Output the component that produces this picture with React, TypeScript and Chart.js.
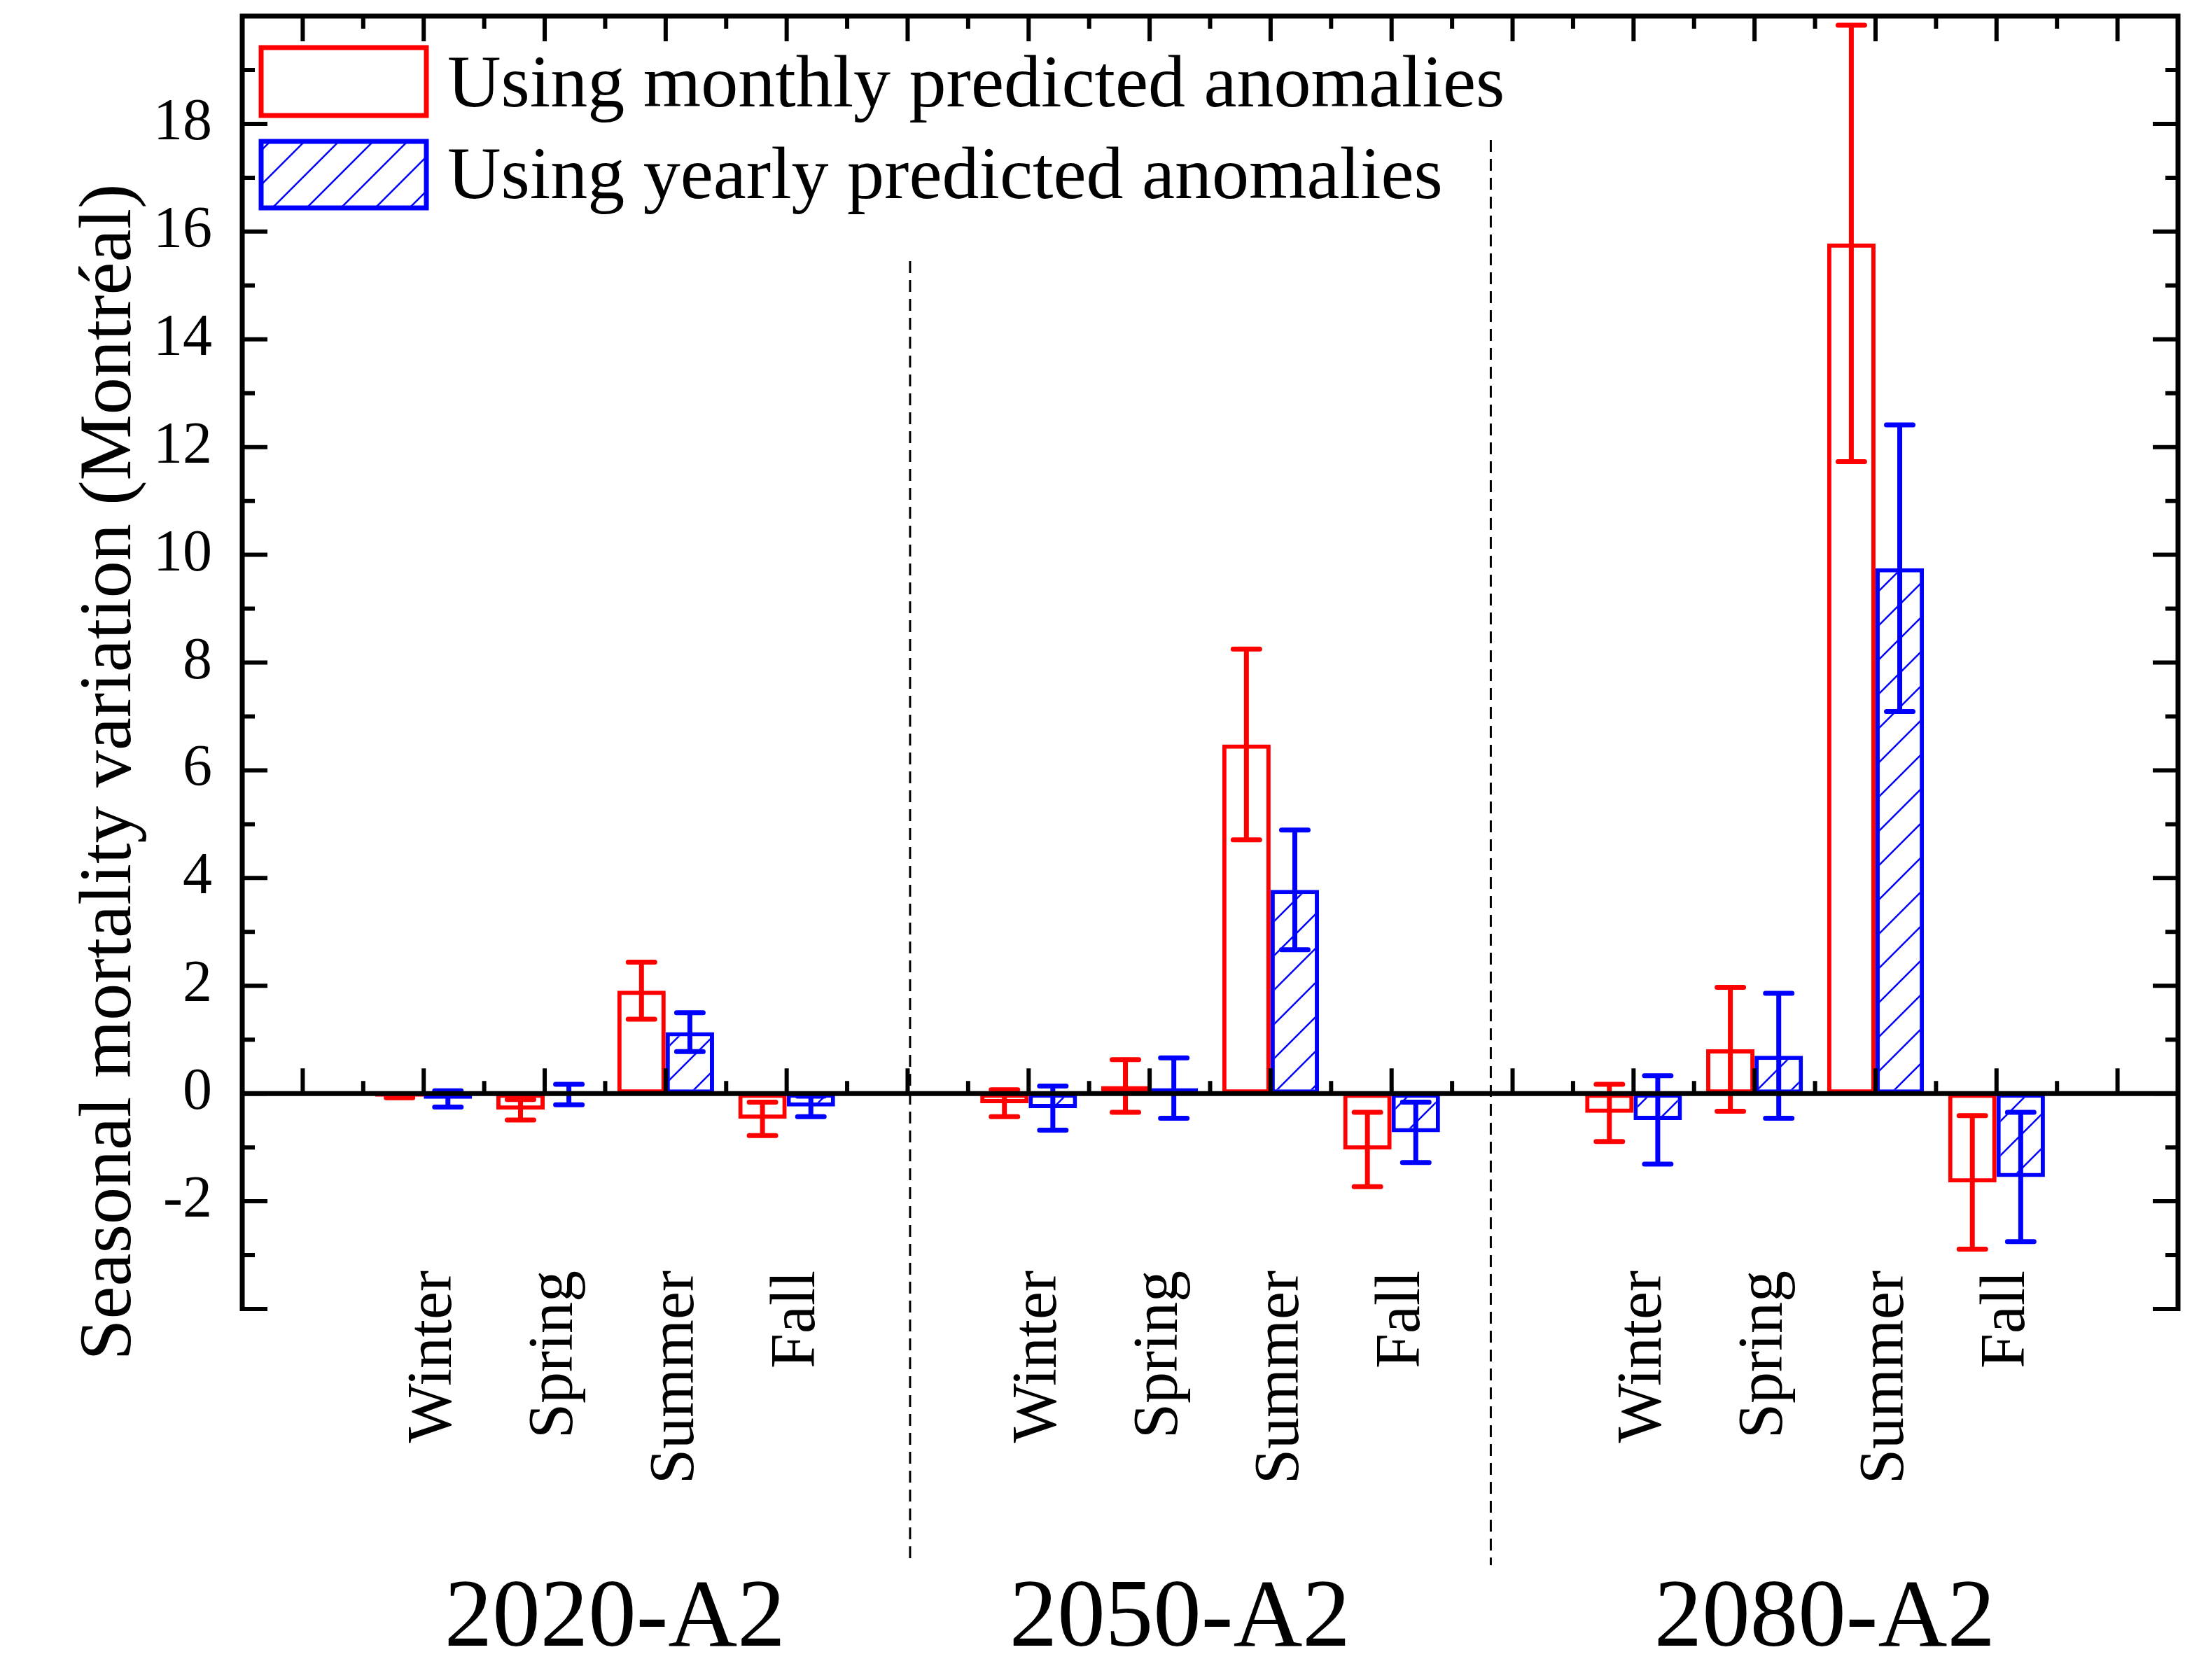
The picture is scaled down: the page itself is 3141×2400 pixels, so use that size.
import React, { useEffect, useRef } from 'react';
import { Chart, registerables } from 'chart.js';

Chart.register(...registerables);

// categories along the x axis (empty slots separate the scenarios)
const seasonLabels = ['', 'Winter', 'Spring', 'Summer', 'Fall', '', 'Winter', 'Spring', 'Summer', 'Fall', '', 'Winter', 'Spring', 'Summer', 'Fall', ''];

// "Using monthly predicted anomalies"
const monthlyValues = [null, -0.06, -0.3, 1.91, -0.47, null, -0.18, 0.14, 6.48, -1.04, null, -0.36, 0.82, 15.78, -1.65, null];
const monthlyErrors = [null, 0.02, 0.19, 0.53, 0.31, null, 0.25, 0.49, 1.77, 0.69, null, 0.53, 1.15, 4.05, 1.24, null];

// "Using yearly predicted anomalies"
const yearlyValues = [null, -0.1, -0.02, 1.14, -0.24, null, -0.27, 0.1, 3.78, -0.72, null, -0.49, 0.7, 9.75, -1.55, null];
const yearlyErrors = [null, 0.15, 0.19, 0.36, 0.19, null, 0.41, 0.56, 1.11, 0.56, null, 0.82, 1.16, 2.66, 1.2, null];

const scenarioLabels = ['2020-A2', '2050-A2', '2080-A2'];
const scenarioCenters = [2.58, 7.25, 12.58]; // in category index units
const dividerIndex = [5.02, 9.82];

const yMin = -4;
const yMax = 20;

const FONT = '"Liberation Serif", "Times New Roman", serif';
const RED = '#ff0000';
const BLUE = '#0000ff';

const makeHatch = () => {
  const s = 49;
  const c = document.createElement('canvas');
  c.width = s;
  c.height = s;
  const g = c.getContext('2d')!;
  g.fillStyle = '#ffffff';
  g.fillRect(0, 0, s, s);
  g.strokeStyle = BLUE;
  g.lineWidth = 2.5;
  g.beginPath();
  g.moveTo(-2, s + 2);
  g.lineTo(s + 2, -2);
  g.moveTo(-2, 2);
  g.lineTo(2, -2);
  g.moveTo(s - 2, s + 2);
  g.lineTo(s + 2, s - 2);
  g.stroke();
  return g.createPattern(c, 'repeat')!;
};

const errors = [monthlyErrors, yearlyErrors];

const decorPlugin = {
  id: 'decor',
  afterDatasetsDraw(chart: any) {
    const { ctx, chartArea: a, scales } = chart;
    const x = scales.x;
    const y = scales.y;
    ctx.save();

    // error bars
    chart.data.datasets.forEach((ds: any, di: number) => {
      const meta = chart.getDatasetMeta(di);
      ctx.strokeStyle = ds.borderColor;
      ctx.lineWidth = 7;
      ctx.lineCap = 'round';
      meta.data.forEach((el: any, i: number) => {
        const v = ds.data[i];
        const e = errors[di][i];
        if (v == null || e == null) return;
        const top = y.getPixelForValue(v + e);
        const bot = y.getPixelForValue(v - e);
        ctx.beginPath();
        ctx.moveTo(el.x, top);
        ctx.lineTo(el.x, bot);
        ctx.moveTo(el.x - 19, top);
        ctx.lineTo(el.x + 19, top);
        ctx.moveTo(el.x - 19, bot);
        ctx.lineTo(el.x + 19, bot);
        ctx.stroke();
      });
    });

    ctx.lineCap = 'butt';
    ctx.strokeStyle = '#000';

    // zero line with ticks, and top axis ticks
    const y0 = y.getPixelForValue(0);
    ctx.lineWidth = 7;
    ctx.beginPath();
    ctx.moveTo(a.left, y0);
    ctx.lineTo(a.right, y0);
    ctx.stroke();

    ctx.lineWidth = 6;
    ctx.beginPath();
    for (let i = 0; i < seasonLabels.length; i++) {
      const cx = x.getPixelForValue(i);
      ctx.moveTo(cx, y0);
      ctx.lineTo(cx, y0 - 36);
      ctx.moveTo(cx, a.top);
      ctx.lineTo(cx, a.top + 36);
      if (i > 0) {
        const bx = x.getPixelForValue(i - 0.5);
        ctx.moveTo(bx, y0);
        ctx.lineTo(bx, y0 - 18);
        ctx.moveTo(bx, a.top);
        ctx.lineTo(bx, a.top + 18);
      }
    }
    // left and right axis ticks
    for (let v = yMin; v <= yMax; v++) {
      const py = y.getPixelForValue(v);
      const len = v % 2 === 0 ? 36 : 18;
      ctx.moveTo(a.left, py);
      ctx.lineTo(a.left + len, py);
      ctx.moveTo(a.right, py);
      ctx.lineTo(a.right - len, py);
    }
    ctx.stroke();

    // frame (no bottom line)
    ctx.lineWidth = 7;
    ctx.beginPath();
    ctx.moveTo(a.left, a.bottom + 3);
    ctx.lineTo(a.left, a.top);
    ctx.lineTo(a.right, a.top);
    ctx.lineTo(a.right, a.bottom + 3);
    ctx.stroke();

    // dashed dividers
    ctx.lineWidth = 3;
    ctx.setLineDash([17, 10]);
    const dividerTops = [373, 200];
    dividerIndex.forEach((d, k) => {
      const px = x.getPixelForValue(d);
      ctx.beginPath();
      ctx.moveTo(px, dividerTops[k]);
      ctx.lineTo(px, 2236);
      ctx.stroke();
    });
    ctx.setLineDash([]);

    // season labels (rotated)
    ctx.fillStyle = '#000';
    ctx.font = `90px ${FONT}`;
    ctx.textAlign = 'right';
    ctx.textBaseline = 'alphabetic';
    seasonLabels.forEach((lab, i) => {
      if (!lab) return;
      const cx = x.getPixelForValue(i);
      ctx.save();
      ctx.translate(cx + 39, 1815);
      ctx.rotate(-Math.PI / 2);
      ctx.fillText(lab, 0, 0);
      ctx.restore();
    });

    // scenario labels
    ctx.font = `137px ${FONT}`;
    ctx.textAlign = 'center';
    scenarioLabels.forEach((lab, k) => {
      ctx.fillText(lab, x.getPixelForValue(scenarioCenters[k]), 2351);
    });

    // y axis title
    ctx.save();
    ctx.font = `106px ${FONT}`;
    ctx.translate(186, 1103);
    ctx.rotate(-Math.PI / 2);
    ctx.textAlign = 'center';
    ctx.fillText('Seasonal mortality variation (Montréal)', 0, 0);
    ctx.restore();

    // legend
    ctx.font = `106px ${FONT}`;
    ctx.textAlign = 'left';
    const boxes = [
      { top: 68, bottom: 165, base: 152 },
      { top: 202, bottom: 297, base: 283 },
    ];
    chart.data.datasets.forEach((ds: any, di: number) => {
      const b = boxes[di];
      ctx.fillStyle = ds.backgroundColor;
      ctx.fillRect(373, b.top, 236, b.bottom - b.top);
      ctx.strokeStyle = ds.borderColor;
      ctx.lineWidth = 7;
      ctx.strokeRect(373, b.top, 236, b.bottom - b.top);
      ctx.fillStyle = '#000';
      ctx.fillText(ds.label, 639, b.base);
    });

    ctx.restore();
  },
};

const App = () => {
  const canvasRef = useRef<HTMLCanvasElement>(null);

  useEffect(() => {
    document.body.style.margin = '0';
    if (!canvasRef.current) return;
    const hatch = makeHatch();
    const chart = new Chart(canvasRef.current, {
      type: 'bar',
      data: {
        labels: seasonLabels,
        datasets: [
          {
            label: 'Using monthly predicted anomalies',
            data: monthlyValues,
            backgroundColor: 'rgba(255,255,255,0)',
            borderColor: RED,
            borderWidth: 6,
            borderSkipped: false,
          },
          {
            label: 'Using yearly predicted anomalies',
            data: yearlyValues,
            backgroundColor: hatch,
            borderColor: BLUE,
            borderWidth: 6,
            borderSkipped: false,
          },
        ],
      },
      options: {
        responsive: false,
        devicePixelRatio: 1,
        animation: false,
        layout: { padding: { left: 0, top: 23, right: 30, bottom: 530 } },
        categoryPercentage: 0.8,
        barPercentage: 1.0,
        plugins: {
          legend: { display: false },
          tooltip: { enabled: false },
        },
        scales: {
          x: { display: false },
          y: {
            min: yMin,
            max: yMax,
            grid: { display: false, drawTicks: false },
            border: { display: false },
            ticks: {
              stepSize: 2,
              padding: 43,
              color: '#000',
              font: { family: FONT, size: 84 },
              callback: (v: any) => (v === yMin || v === yMax ? '' : String(v)),
            },
            afterFit: (scale: any) => {
              scale.width = 346;
              scale.paddingTop = 0;
              scale.paddingBottom = 0;
            },
          },
        },
      } as any,
      plugins: [decorPlugin],
    });
    return () => chart.destroy();
  }, []);

  return (
    <canvas
      ref={canvasRef}
      width={3141}
      height={2400}
      style={{ display: 'block', width: 3141, height: 2400 }}
    />
  );
};

export default App;
